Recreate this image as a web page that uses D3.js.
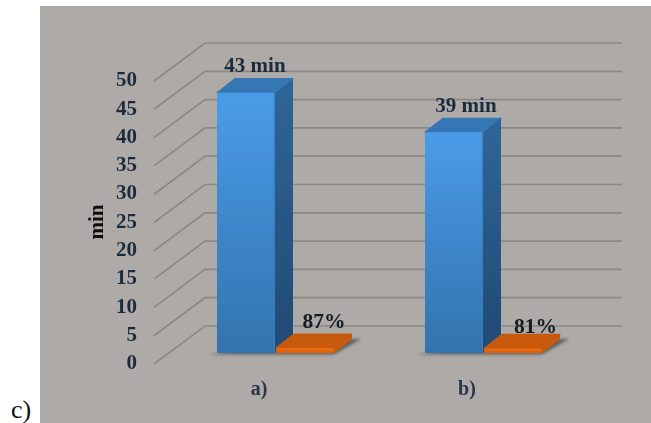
<!DOCTYPE html>
<html><head><meta charset="utf-8">
<script src="https://cdn.jsdelivr.net/npm/d3@7/dist/d3.min.js"></script>
<style>html,body{margin:0;padding:0;background:#fff;overflow:hidden}svg{display:block}
text{font-family:"Liberation Serif","Times New Roman",serif;font-weight:bold}</style>
</head><body><svg id="c" width="651" height="423"></svg>
<script>
const categories = ["a)", "b)"];
const barHeights = [46, 39];
const barLabels = ["43 min", "39 min"];
const percentHeights = [0.87, 0.81];
const percentLabels = ["87%", "81%"];
const tickValues = [0, 5, 10, 15, 20, 25, 30, 35, 40, 45, 50];
const axisTitle = "min";
const panelLabel = "c)";

const svg = d3.select("#c");
const defs = svg.append("defs");
function grad(id, c1, c2) {
  const g = defs.append("linearGradient").attr("id", id).attr("x1",0).attr("y1",0).attr("x2",0).attr("y2",1);
  g.append("stop").attr("offset","0%").attr("stop-color",c1);
  g.append("stop").attr("offset","100%").attr("stop-color",c2);
}
grad("blueFront","#4a9ce8","#3273ad");
grad("blueSide","#2f659a","#204a72");
grad("orangeFront","#ee6d10","#d8600c");
defs.append("filter").attr("id","soft").append("feGaussianBlur").attr("stdDeviation",0.45);
const sh = defs.append("filter").attr("id","shadow").attr("x","-20%").attr("y","-50%").attr("width","140%").attr("height","200%");
sh.append("feGaussianBlur").attr("stdDeviation",1.6);

svg.append("rect").attr("x",40).attr("y",6).attr("width",611).attr("height",417).attr("fill","#aeaaa8");

const wallDX = 51, wallDY = -38, wallRight = 622, wallFrontX = 154;
const yWall = d3.scaleLinear().domain([0,50]).range([364,81]);
const root = svg.append("g").attr("filter","url(#soft)");

const grid = root.append("g").attr("fill","none").attr("stroke","#8b8986").attr("stroke-width",1.7);
grid.selectAll("path").data(tickValues).join("path")
  .attr("d", v => { const y = yWall(v); return `M${wallFrontX},${y}L${wallFrontX+wallDX},${y+wallDY}H${wallRight}`; });

const yBar = d3.scaleLinear().domain([0,50]).range([353,70]);
const x0 = d3.scaleBand().domain(categories).range([171,587]).paddingInner(92/208).paddingOuter(92/416);
const x1 = d3.scaleBand().domain(["time","pct"]).range([0,x0.bandwidth()]);
const dx = 18, dy = -14;

function box(g, x, w, v, front, side, top) {
  const yb = yBar(0), yt = yBar(v);
  g.append("path").attr("fill",top).attr("d",`M${x},${yt}L${x+dx},${yt+dy}H${x+w+dx}L${x+w},${yt}Z`).attr("stroke",top).attr("stroke-width",1.2).attr("stroke-linejoin","round");
  g.append("path").attr("fill",side).attr("d",`M${x+w},${yt}L${x+w+dx},${yt+dy}V${yb+dy}L${x+w},${yb}Z`);
  g.append("rect").attr("x",x).attr("y",yt).attr("width",w).attr("height",yb-yt).attr("rx",1.5).attr("fill",front);
}

const marks = root.append("g");
categories.forEach((c,i) => {
  const xb = x0(c) + x1("time"), w = x1.bandwidth(), xp = x0(c) + x1("pct") + 1;
  const yb = yBar(0);
  marks.append("path").attr("fill","#63605d").attr("filter","url(#shadow)")
    .attr("d",`M${xb-7},${yb+1.5}H${xp+w}L${xp+w+dx+9},${yb+dy}H${xp+dx}Z`);
  box(marks.append("g"), xb, w, barHeights[i], "url(#blueFront)", "url(#blueSide)", "#3577b5");
  box(marks.append("g"), xp, w, percentHeights[i], "url(#orangeFront)", "#c85a0b", "#c85a0b");
  marks.append("rect").attr("x",xb+w-1.5).attr("y",yBar(barHeights[i])).attr("width",1.5).attr("height",yb-yBar(barHeights[i])).attr("fill","#3a7fbf").attr("opacity",.7);
});

const axis = d3.axisLeft(d3.scaleLinear().domain([0,50]).range([362,79])).tickValues(tickValues).tickSize(0).tickPadding(0);
const ax = root.append("g").attr("transform","translate(137,0)").call(axis);
ax.select(".domain").remove();
ax.selectAll("text").style("font-family",'"Liberation Serif",serif').style("font-weight","bold").style("font-size","21px").attr("fill","#1f2c3e");

const label = (x,y,t,size,fill) => root.append("text").attr("x",x).attr("y",y).attr("text-anchor","middle").attr("font-size",size).attr("fill",fill).text(t);
const labelOffsets = { time: [[255,71.5],[466,112]], pct: [[324,328],[535.5,333]] };
barLabels.forEach((t,i)=>label(labelOffsets.time[i][0],labelOffsets.time[i][1],t,21,"#1f2c3e"));
percentLabels.forEach((t,i)=>label(labelOffsets.pct[i][0],labelOffsets.pct[i][1],t,21.5,"#141a22"));
categories.forEach(c=>label(x0(c)+x0.bandwidth()/2-16,395,c,20,"#2a3548"));

root.append("text").attr("transform","translate(103,222) rotate(-90)").attr("text-anchor","middle").attr("font-size",21).attr("fill","#111").text(axisTitle);
svg.append("text").attr("x",11).attr("y",418).attr("font-size",26).style("font-weight","normal").attr("fill","#111").text(panelLabel);
</script></body></html>
